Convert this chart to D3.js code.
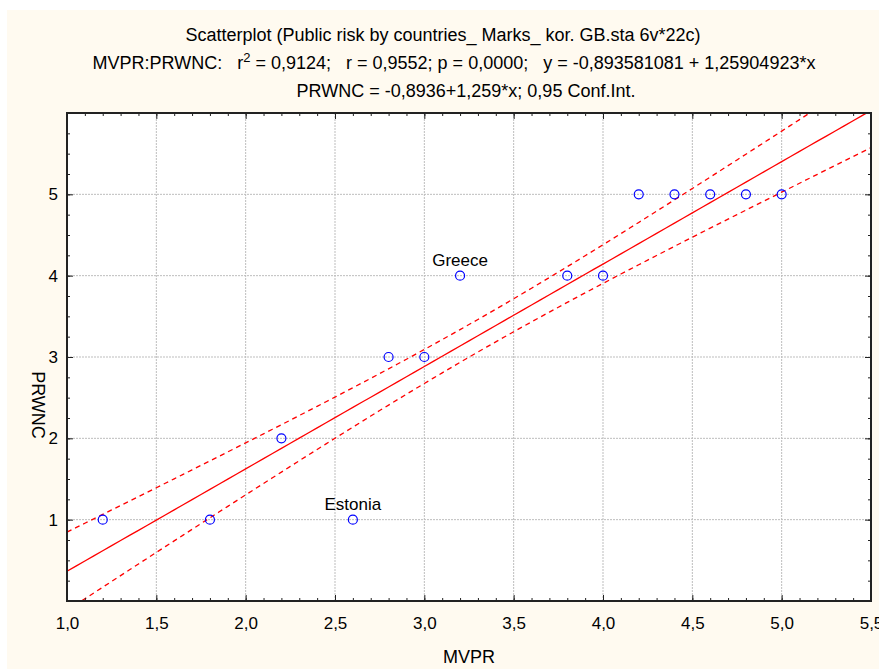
<!DOCTYPE html>
<html>
<head>
<meta charset="utf-8">
<script src="https://cdn.jsdelivr.net/npm/d3@7"></script>
<style>
  body { margin: 0; background: #fff; }
  text { font-family: Arial, "Liberation Sans", sans-serif; fill: #000; }
</style>
</head>
<body>
<script>
// size of the whole picture
var w = 879;
var h = 669;

// the cases
var mvpr  = [1.2, 1.8, 2.2, 2.6, 2.8, 3.0, 3.2, 3.8, 4.0, 4.2, 4.4, 4.6, 4.8, 5.0];
var prwnc = [1,   1,   2,   1,   3,   3,   4,   4,   4,   5,   5,   5,   5,   5];

// named cases
var labelNames = ["Greece", "Estonia"];
var labelX = [3.2, 2.6];
var labelY = [4, 1];

// regression from the title
var intercept = -0.893581081;
var slope = 1.25904923;

// stats for the 0,95 band (22 cases)
var nCases = 22;
var meanX = 3.32;
var sxx = 24.7;
var sResid = 0.45;
var tCrit = 2.086;

// tick labels
var xTicks = [1.0, 1.5, 2.0, 2.5, 3.0, 3.5, 4.0, 4.5, 5.0, 5.5];
var yTicks = [1, 2, 3, 4, 5];

var titleLines = [
  "Scatterplot (Public risk by countries_ Marks_ kor. GB.sta 6v*22c)",
  "PRWNC = -0,8936+1,259*x; 0,95 Conf.Int."
];

var margin = {left: 67, right: 8, top: 113, bottom: 68};

var svg = d3.select("body")
            .append("svg")
            .attr("width", w)
            .attr("height", h);

// cream background
svg.append("rect")
   .attr("x", 7).attr("y", 10)
   .attr("width", w - 7).attr("height", h - 10)
   .attr("fill", "#fffaf0");

var x = d3.scaleLinear().domain([1.0, 5.5]).range([margin.left, w - margin.right]);
var y = d3.scaleLinear().domain([0, 6]).range([h - margin.bottom, margin.top]);

var fmt = function(d) { return d3.format(".1f")(d).replace(".", ","); };

// plot area
svg.append("rect")
   .attr("x", x(1.0)).attr("y", y(6))
   .attr("width", x(5.5) - x(1.0)).attr("height", y(0) - y(6))
   .attr("fill", "#fff");

svg.append("clipPath").attr("id", "clip")
   .append("rect")
   .attr("x", x(1.0)).attr("y", y(6))
   .attr("width", x(5.5) - x(1.0)).attr("height", y(0) - y(6));

// dotted grid
svg.append("g").selectAll("line")
   .data(xTicks.slice(1, -1))
   .enter().append("line")
   .attr("x1", function(d) { return x(d); })
   .attr("x2", function(d) { return x(d); })
   .attr("y1", y(0)).attr("y2", y(6))
   .attr("stroke", "#bdbdbd").attr("stroke-dasharray", "2,1");

svg.append("g").selectAll("line")
   .data(yTicks)
   .enter().append("line")
   .attr("x1", x(1.0)).attr("x2", x(5.5))
   .attr("y1", function(d) { return y(d); })
   .attr("y2", function(d) { return y(d); })
   .attr("stroke", "#bdbdbd").attr("stroke-dasharray", "2,1");

// fit line and confidence band
var fit = function(v) { return intercept + slope * v; };
var half = function(v) {
  return tCrit * sResid * Math.sqrt(1 / nCases + (v - meanX) * (v - meanX) / sxx);
};
var xs = d3.range(1.0, 5.5001, 0.05);

var plot = svg.append("g").attr("clip-path", "url(#clip)");

plot.append("path")
    .attr("d", d3.line().x(function(d) { return x(d); }).y(function(d) { return y(fit(d)); })(xs))
    .attr("fill", "none").attr("stroke", "#ff0000").attr("stroke-width", 1.3);

[1, -1].forEach(function(sign) {
  plot.append("path")
      .attr("d", d3.line()
        .x(function(d) { return x(d); })
        .y(function(d) { return y(fit(d) + sign * half(d)); })(xs))
      .attr("fill", "none").attr("stroke", "#ff0000").attr("stroke-width", 1.3)
      .attr("stroke-dasharray", "5,4");
});

// points
svg.append("g").selectAll("circle")
   .data(mvpr)
   .enter().append("circle")
   .attr("cx", function(d) { return x(d); })
   .attr("cy", function(d, i) { return y(prwnc[i]); })
   .attr("r", 4.5)
   .attr("fill", "none")
   .attr("stroke", "#0000ff")
   .attr("stroke-width", 1.2);

// point names
svg.append("g").selectAll("text")
   .data(labelNames)
   .enter().append("text")
   .attr("x", function(d, i) { return x(labelX[i]); })
   .attr("y", function(d, i) { return y(labelY[i]) - 10; })
   .attr("text-anchor", "middle")
   .attr("font-size", 17)
   .text(function(d) { return d; });

// axes with inward ticks on all four sides
var minorX = d3.range(10, 56).map(function(d) { return d / 10; });
var minorY = d3.range(0, 25).map(function(d) { return d / 4; });

var bottom = svg.append("g").attr("transform", "translate(0," + y(0) + ")")
  .call(d3.axisBottom(x).tickValues(minorX).tickSize(-3).tickFormat(""));
var bottomMajor = svg.append("g").attr("transform", "translate(0," + y(0) + ")")
  .call(d3.axisBottom(x).tickValues(xTicks).tickSize(-6).tickPadding(16).tickFormat(fmt));
var top = svg.append("g").attr("transform", "translate(0," + y(6) + ")")
  .call(d3.axisTop(x).tickValues(minorX).tickSize(-3).tickFormat(""));
var topMajor = svg.append("g").attr("transform", "translate(0," + y(6) + ")")
  .call(d3.axisTop(x).tickValues(xTicks).tickSize(-6).tickFormat(""));
var left = svg.append("g").attr("transform", "translate(" + x(1.0) + ",0)")
  .call(d3.axisLeft(y).tickValues(minorY).tickSize(-3).tickFormat(""));
var leftMajor = svg.append("g").attr("transform", "translate(" + x(1.0) + ",0)")
  .call(d3.axisLeft(y).tickValues(yTicks).tickSize(-6).tickPadding(0).tickFormat(d3.format("d")));
var right = svg.append("g").attr("transform", "translate(" + x(5.5) + ",0)")
  .call(d3.axisRight(y).tickValues(minorY).tickSize(-3).tickFormat(""));
var rightMajor = svg.append("g").attr("transform", "translate(" + x(5.5) + ",0)")
  .call(d3.axisRight(y).tickValues(yTicks).tickSize(-6).tickFormat(""));

svg.selectAll(".domain").remove();
svg.selectAll(".tick line").attr("stroke", "#222").attr("stroke-width", 1);
svg.selectAll(".tick text").attr("font-size", 17).attr("fill", "#000")
   .style("font-family", "Arial, 'Liberation Sans', sans-serif");
leftMajor.selectAll(".tick text").attr("x", -9).attr("text-anchor", "end");

// frame
svg.append("rect")
   .attr("x", x(1.0)).attr("y", y(6))
   .attr("width", x(5.5) - x(1.0)).attr("height", y(0) - y(6))
   .attr("fill", "none").attr("stroke", "#222").attr("stroke-width", 2);

// axis titles
svg.append("text")
   .attr("x", 469).attr("y", 663)
   .attr("text-anchor", "middle").attr("font-size", 18)
   .text("MVPR");

svg.append("text")
   .attr("transform", "translate(32," + 405 + ") rotate(90)")
   .attr("text-anchor", "middle").attr("font-size", 18)
   .text("PRWNC");

// title lines
svg.append("text").attr("x", 443).attr("y", 41).attr("text-anchor", "middle")
   .attr("font-size", 18).text(titleLines[0]);

var t2 = svg.append("text").attr("x", 454).attr("y", 69).attr("text-anchor", "middle")
   .attr("font-size", 18).attr("xml:space", "preserve");
t2.append("tspan").text("MVPR:PRWNC:   r");
t2.append("tspan").attr("dy", -7).attr("font-size", 13).text("2");
t2.append("tspan").attr("dy", 7).text(" = 0,9124;   r = 0,9552; p = 0,0000;   y = -0,893581081 + 1,25904923*x");

svg.append("text").attr("x", 466).attr("y", 97).attr("text-anchor", "middle")
   .attr("font-size", 18).text(titleLines[1]);
</script>
</body>
</html>
